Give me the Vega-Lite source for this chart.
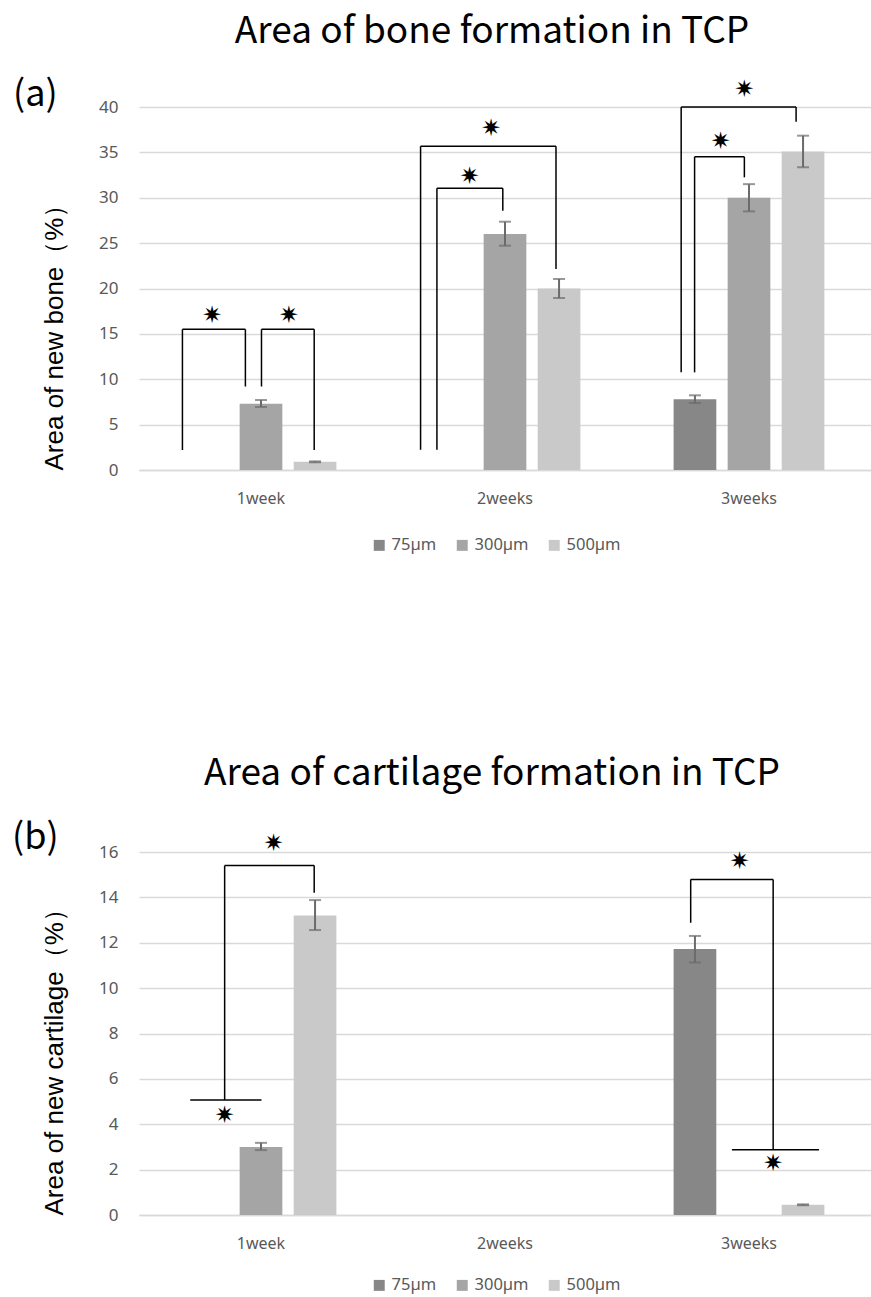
{
  "$schema": "https://vega.github.io/schema/vega-lite/v6.json",
  "background": "white",
  "padding": {"left": 12, "top": 13, "right": 0, "bottom": 0},
  "spacing": 201,
  "resolve": {"scale": {"color": "independent"}, "legend": {"color": "independent"}},
  "config": {
    "view": {"stroke": null},
    "axis": {"labelFont": "Noto Sans", "titleFont": "Liberation Sans"},
    "legend": {"labelFont": "Noto Sans"}
  },
  "datasets": {
    "boneBars": [
      {"week": "1week", "size": "300µm", "value": 7.3, "lo": 6.94, "hi": 7.71},
      {"week": "1week", "size": "500µm", "value": 0.9, "lo": 0.85, "hi": 0.95},
      {"week": "2weeks", "size": "300µm", "value": 26.0, "lo": 24.72, "hi": 27.36},
      {"week": "2weeks", "size": "500µm", "value": 20.0, "lo": 18.95, "hi": 21.05},
      {"week": "3weeks", "size": "75µm", "value": 7.8, "lo": 7.38, "hi": 8.23},
      {"week": "3weeks", "size": "300µm", "value": 30.0, "lo": 28.5, "hi": 31.5},
      {"week": "3weeks", "size": "500µm", "value": 35.1, "lo": 33.36, "hi": 36.84}
    ],
    "boneLines": [
      {"x": 0.178, "x2": 0.178, "y": 2.2, "y2": 15.5},
      {"x": 0.178, "x2": 0.436, "y": 15.5, "y2": 15.5},
      {"x": 0.436, "x2": 0.436, "y": 15.5, "y2": 9.2},
      {"x": 0.502, "x2": 0.502, "y": 9.2, "y2": 15.5},
      {"x": 0.502, "x2": 0.718, "y": 15.5, "y2": 15.5},
      {"x": 0.718, "x2": 0.718, "y": 15.5, "y2": 2.2},
      {"x": 1.154, "x2": 1.154, "y": 2.24, "y2": 35.67},
      {"x": 1.154, "x2": 1.709, "y": 35.67, "y2": 35.67},
      {"x": 1.709, "x2": 1.709, "y": 35.67, "y2": 22.15},
      {"x": 1.221, "x2": 1.221, "y": 2.24, "y2": 31.04},
      {"x": 1.221, "x2": 1.491, "y": 31.04, "y2": 31.04},
      {"x": 1.491, "x2": 1.491, "y": 31.04, "y2": 28.57},
      {"x": 2.222, "x2": 2.222, "y": 10.76, "y2": 40.0},
      {"x": 2.222, "x2": 2.693, "y": 40.0, "y2": 40.0},
      {"x": 2.693, "x2": 2.693, "y": 40.0, "y2": 38.38},
      {"x": 2.277, "x2": 2.277, "y": 10.76, "y2": 34.52},
      {"x": 2.277, "x2": 2.481, "y": 34.52, "y2": 34.52},
      {"x": 2.481, "x2": 2.481, "y": 34.52, "y2": 32.25}
    ],
    "boneStars": [
      {"x": 0.299, "y": 17.0},
      {"x": 0.614, "y": 17.0},
      {"x": 1.443, "y": 37.6},
      {"x": 1.355, "y": 32.3},
      {"x": 2.481, "y": 41.9},
      {"x": 2.383, "y": 36.1}
    ],
    "cartBars": [
      {"week": "1week", "size": "300µm", "value": 3.0, "lo": 2.86, "hi": 3.18},
      {"week": "1week", "size": "500µm", "value": 13.2, "lo": 12.56, "hi": 13.88},
      {"week": "3weeks", "size": "75µm", "value": 11.73, "lo": 11.13, "hi": 12.3},
      {"week": "3weeks", "size": "500µm", "value": 0.45, "lo": 0.43, "hi": 0.47}
    ],
    "cartLines": [
      {"x": 0.351, "x2": 0.351, "y": 5.07, "y2": 15.4},
      {"x": 0.351, "x2": 0.718, "y": 15.4, "y2": 15.4},
      {"x": 0.718, "x2": 0.718, "y": 15.4, "y2": 14.2},
      {"x": 0.21, "x2": 0.502, "y": 5.07, "y2": 5.07},
      {"x": 2.261, "x2": 2.261, "y": 12.88, "y2": 14.79},
      {"x": 2.261, "x2": 2.599, "y": 14.79, "y2": 14.79},
      {"x": 2.599, "x2": 2.599, "y": 14.79, "y2": 2.88},
      {"x": 2.43, "x2": 2.787, "y": 2.88, "y2": 2.88}
    ],
    "cartStars": [
      {"x": 0.551, "y": 16.34},
      {"x": 0.351, "y": 4.36},
      {"x": 2.461, "y": 15.55},
      {"x": 2.599, "y": 2.25}
    ]
  },
  "vconcat": [
    {
      "title": {"text": "Area of bone formation in TCP", "font": "Noto Sans CJK JP", "fontSize": 37, "fontWeight": "normal", "color": "#000000", "anchor": "middle", "frame": "group", "dx": -13, "offset": 26},
      "width": 732,
      "height": 363,
      "layer": [
        {
          "data": {"name": "boneBars"},
          "layer": [
            {
              "mark": {"type": "bar"},
              "encoding": {
                "x": {"field": "week", "type": "nominal", "scale": {"domain": ["1week", "2weeks", "3weeks"], "paddingInner": 0.382, "paddingOuter": 0.191},
                  "axis": {"title": null, "labelAngle": 0, "ticks": false, "domainColor": "#d9d9d9", "domainWidth": 1.5, "labelFontSize": 16, "labelColor": "#595959", "labelPadding": 20}},
                "xOffset": {"field": "size", "type": "nominal", "scale": {"domain": ["75µm", "300µm", "500µm"], "paddingInner": 0.21, "paddingOuter": 0}},
                "y": {"field": "value", "type": "quantitative", "scale": {"domain": [0, 40], "nice": false},
                  "axis": {"values": [0, 5, 10, 15, 20, 25, 30, 35, 40], "title": "Area of new bone（%）", "titleFontSize": 26, "titleFontWeight": "normal", "titleColor": "#000000", "titleAnchor": "start", "titlePadding": 31, "domain": false, "ticks": false, "gridColor": "#d9d9d9", "gridWidth": 1.5, "labelFontSize": 17, "labelColor": "#595959", "labelPadding": 21}},
                "color": {"field": "size", "type": "nominal", "scale": {"domain": ["75µm", "300µm", "500µm"], "range": ["#878787", "#a5a5a5", "#c9c9c9"]},
                  "legend": {"title": null, "orient": "none", "legendX": 232, "legendY": 430, "direction": "horizontal", "symbolType": "square", "symbolSize": 120, "symbolStrokeWidth": 0, "labelFontSize": 16.5, "labelColor": "#595959", "columnPadding": 17}}
              }
            },
            {
              "mark": {"type": "rule", "color": "#6b6b6b", "strokeWidth": 2},
              "encoding": {
                "x": {"field": "week", "type": "nominal"},
                "xOffset": {"field": "size", "type": "nominal"},
                "y": {"field": "lo", "type": "quantitative"},
                "y2": {"field": "hi"}
              }
            },
            {
              "mark": {"type": "tick", "orient": "horizontal", "color": "#6b6b6b", "size": 12, "thickness": 2},
              "encoding": {
                "x": {"field": "week", "type": "nominal"},
                "xOffset": {"field": "size", "type": "nominal"},
                "y": {"field": "lo", "type": "quantitative"}
              }
            },
            {
              "mark": {"type": "tick", "orient": "horizontal", "color": "#6b6b6b", "size": 12, "thickness": 2},
              "encoding": {
                "x": {"field": "week", "type": "nominal"},
                "xOffset": {"field": "size", "type": "nominal"},
                "y": {"field": "hi", "type": "quantitative"}
              }
            }
          ]
        },
        {
          "data": {"name": "boneLines"},
          "mark": {"type": "rule", "color": "#000000", "strokeWidth": 1.5},
          "encoding": {
            "x": {"field": "x", "type": "quantitative", "scale": {"domain": [0, 3], "nice": false, "zero": false}, "axis": null},
            "x2": {"field": "x2"},
            "y": {"field": "y", "type": "quantitative"},
            "y2": {"field": "y2"}
          }
        },
        {
          "data": {"name": "boneStars"},
          "mark": {"type": "text", "text": "✷", "font": "DejaVu Sans", "fontSize": 24, "color": "#000000", "baseline": "middle", "align": "center"},
          "encoding": {
            "x": {"field": "x", "type": "quantitative", "scale": {"domain": [0, 3], "nice": false, "zero": false}, "axis": null},
            "y": {"field": "y", "type": "quantitative"}
          }
        },
        {
          "data": {"values": [{"x": -0.425, "y": 41.3, "label": "(a)"}]},
          "mark": {"type": "text", "font": "Noto Sans CJK JP", "fontSize": 36, "color": "#000000", "baseline": "middle", "align": "center"},
          "encoding": {
            "x": {"field": "x", "type": "quantitative", "scale": {"domain": [0, 3], "nice": false, "zero": false}, "axis": null},
            "y": {"field": "y", "type": "quantitative"},
            "text": {"field": "label"}
          }
        }
      ],
      "resolve": {"scale": {"x": "independent"}}
    },
    {
      "title": {"text": "Area of cartilage formation in TCP", "font": "Noto Sans CJK JP", "fontSize": 37, "fontWeight": "normal", "color": "#000000", "anchor": "middle", "frame": "group", "dx": -13, "offset": 27},
      "width": 732,
      "height": 363,
      "layer": [
        {
          "data": {"name": "cartBars"},
          "layer": [
            {
              "mark": {"type": "bar"},
              "encoding": {
                "x": {"field": "week", "type": "nominal", "scale": {"domain": ["1week", "2weeks", "3weeks"], "paddingInner": 0.382, "paddingOuter": 0.191},
                  "axis": {"title": null, "labelAngle": 0, "ticks": false, "domainColor": "#d9d9d9", "domainWidth": 1.5, "labelFontSize": 16, "labelColor": "#595959", "labelPadding": 20}},
                "xOffset": {"field": "size", "type": "nominal", "scale": {"domain": ["75µm", "300µm", "500µm"], "paddingInner": 0.21, "paddingOuter": 0}},
                "y": {"field": "value", "type": "quantitative", "scale": {"domain": [0, 16], "nice": false},
                  "axis": {"values": [0, 2, 4, 6, 8, 10, 12, 14, 16], "title": "Area of new cartilage（%）", "titleFontSize": 26, "titleFontWeight": "normal", "titleColor": "#000000", "titleAnchor": "start", "titlePadding": 31, "domain": false, "ticks": false, "gridColor": "#d9d9d9", "gridWidth": 1.5, "labelFontSize": 17, "labelColor": "#595959", "labelPadding": 21}},
                "color": {"field": "size", "type": "nominal", "scale": {"domain": ["75µm", "300µm", "500µm"], "range": ["#878787", "#a5a5a5", "#c9c9c9"]},
                  "legend": {"title": null, "orient": "none", "legendX": 232, "legendY": 425, "direction": "horizontal", "symbolType": "square", "symbolSize": 120, "symbolStrokeWidth": 0, "labelFontSize": 16.5, "labelColor": "#595959", "columnPadding": 17}}
              }
            },
            {
              "mark": {"type": "rule", "color": "#6b6b6b", "strokeWidth": 2},
              "encoding": {
                "x": {"field": "week", "type": "nominal"},
                "xOffset": {"field": "size", "type": "nominal"},
                "y": {"field": "lo", "type": "quantitative"},
                "y2": {"field": "hi"}
              }
            },
            {
              "mark": {"type": "tick", "orient": "horizontal", "color": "#6b6b6b", "size": 12, "thickness": 2},
              "encoding": {
                "x": {"field": "week", "type": "nominal"},
                "xOffset": {"field": "size", "type": "nominal"},
                "y": {"field": "lo", "type": "quantitative"}
              }
            },
            {
              "mark": {"type": "tick", "orient": "horizontal", "color": "#6b6b6b", "size": 12, "thickness": 2},
              "encoding": {
                "x": {"field": "week", "type": "nominal"},
                "xOffset": {"field": "size", "type": "nominal"},
                "y": {"field": "hi", "type": "quantitative"}
              }
            }
          ]
        },
        {
          "data": {"name": "cartLines"},
          "mark": {"type": "rule", "color": "#000000", "strokeWidth": 1.5},
          "encoding": {
            "x": {"field": "x", "type": "quantitative", "scale": {"domain": [0, 3], "nice": false, "zero": false}, "axis": null},
            "x2": {"field": "x2"},
            "y": {"field": "y", "type": "quantitative"},
            "y2": {"field": "y2"}
          }
        },
        {
          "data": {"name": "cartStars"},
          "mark": {"type": "text", "text": "✷", "font": "DejaVu Sans", "fontSize": 24, "color": "#000000", "baseline": "middle", "align": "center"},
          "encoding": {
            "x": {"field": "x", "type": "quantitative", "scale": {"domain": [0, 3], "nice": false, "zero": false}, "axis": null},
            "y": {"field": "y", "type": "quantitative"}
          }
        },
        {
          "data": {"values": [{"x": -0.425, "y": 16.6, "label": "(b)"}]},
          "mark": {"type": "text", "font": "Noto Sans CJK JP", "fontSize": 36, "color": "#000000", "baseline": "middle", "align": "center"},
          "encoding": {
            "x": {"field": "x", "type": "quantitative", "scale": {"domain": [0, 3], "nice": false, "zero": false}, "axis": null},
            "y": {"field": "y", "type": "quantitative"},
            "text": {"field": "label"}
          }
        }
      ],
      "resolve": {"scale": {"x": "independent"}}
    }
  ]
}
